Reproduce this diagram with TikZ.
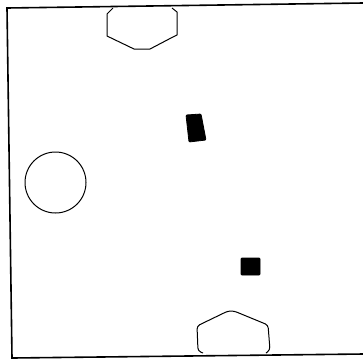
\documentclass[tikz,border=0pt]{standalone}
\begin{document}
\begin{tikzpicture}[x=1pt,y=-1pt,
  frame/.style={line width=1.6pt},
  outline/.style={line width=1pt,line join=round},
  solid block/.style={fill=black,draw=black,line width=0.8pt,rounded corners=1pt}]
\useasboundingbox (0,0) rectangle (363,360);
% frame
\draw[frame] (363,3) -- (7,8) -- (12,358) -- (363,354);
% top hexagon
\draw[outline] (113,8) -- (107,14) -- (107,36) -- (134,49) -- (150,49) -- (171,38) -- (177,35) -- (177,12) -- (172,8);
% bottom hexagon
\draw[outline,rounded corners=3pt] (203,353) -- (198,351) -- (197,326) -- (228,311) -- (234,311) -- (268,325) -- (270,350) -- (266,353);
% circle
\draw[outline] (55.5,182.5) circle (30.5);
% filled blocks
\draw[solid block] (186,115) -- (201,114) -- (206,140) -- (189,142) -- cycle;
\draw[solid block] (241,258) rectangle (260,275);
\end{tikzpicture}
\end{document}
